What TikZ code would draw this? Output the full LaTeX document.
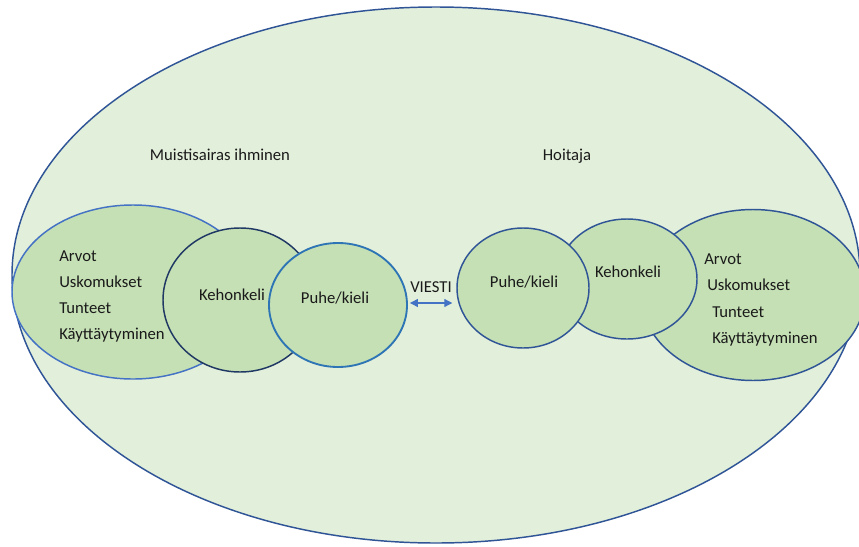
\documentclass[tikz,border=0pt]{standalone}
\usepackage{fontspec}
\setmainfont{Carlito}
\usetikzlibrary{shapes.geometric,arrows.meta}
\definecolor{outerfill}{HTML}{E2EFDA}
\definecolor{innerfill}{HTML}{C5E0B4}
\definecolor{navy}{HTML}{2F5597}
\definecolor{darknavy}{HTML}{203864}
\definecolor{midblue}{HTML}{4472C4}
\definecolor{brightblue}{HTML}{2E75B6}
\definecolor{ink}{HTML}{1A1A1A}
% one drawing unit is 0.75pt; node sizes below are given in pt
\tikzset{
  blob/.style={ellipse, draw=navy, fill=innerfill, line width=1.1pt, inner sep=0pt},
  lbl/.style={font=\fontsize{12.5}{15}\selectfont, text=ink, inner sep=0pt},
  lblw/.style={lbl, anchor=base west},
  lblc/.style={lbl, anchor=base},
  msg/.style={{Triangle[length=6pt,width=6pt]}-{Triangle[length=6pt,width=6pt]}, draw=midblue, line width=0.9pt}
}
\begin{document}
\begin{tikzpicture}[x=0.75pt,y=-0.75pt]
\useasboundingbox (0,0) rectangle (859,546);
% outer field
\node[ellipse, draw=navy, fill=outerfill, line width=1.1pt, inner sep=0pt,
      minimum width=636pt, minimum height=402pt] (outer) at (436,275) {};
% person with memory disorder
\node[blob, draw=midblue, minimum width=181.5pt, minimum height=130.5pt] (lv) at (133,292) {};
\node[blob, draw=darknavy, minimum width=115.5pt, minimum height=108pt] (lk) at (240,300) {};
\node[blob, draw=brightblue, line width=1.4pt, minimum width=103.5pt, minimum height=93pt] (lp) at (338,305) {};
% caregiver
\node[blob, minimum width=168pt, minimum height=128.25pt] (rv) at (753,295) {};
\node[blob, minimum width=105pt, minimum height=90pt] (rk) at (627,279) {};
\node[blob, minimum width=99pt, minimum height=90pt] (rp) at (523,288) {};
% titles
\node[lblc] (t1) at (220,160) {Muistisairas ihminen};
\node[lblc] (t2) at (567,160) {Hoitaja};
% left values
\node[lblw] (la) at (59,261) {Arvot};
\node[lblw] (lu) at (59,287) {Uskomukset};
\node[lblw] (lt) at (59,313) {Tunteet};
\node[lblw] (lkä) at (59,339) {Käyttäytyminen};
\node[lblc] (lkt) at (232,300) {Kehonkeli};
\node[lblc] (lpt) at (335,303) {Puhe/kieli};
% right values
\node[lblw] (ra) at (704,264) {Arvot};
\node[lblw] (ru) at (707,290) {Uskomukset};
\node[lblw] (rt) at (712,317) {Tunteet};
\node[lblw] (rkä) at (712,343) {Käyttäytyminen};
\node[lblc] (rkt) at (628,277) {Kehonkeli};
\node[lblc] (rpt) at (524,287) {Puhe/kieli};
% message
\node[lblc] (v) at (431,292) {VIESTI};
\coordinate (msgl) at ([xshift=1.5pt,yshift=1.5pt]lp.east);
\coordinate (msgr) at ([xshift=-3pt]rp.west |- msgl);
\draw[msg] (msgl) -- (msgr);
\end{tikzpicture}
\end{document}
